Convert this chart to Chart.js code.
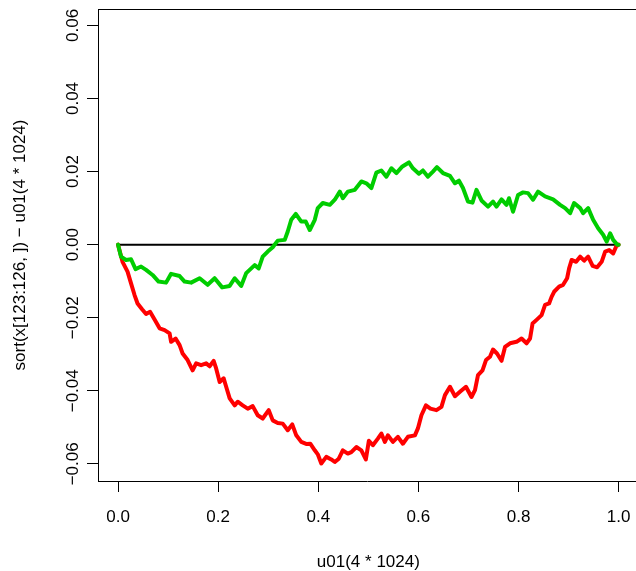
<!DOCTYPE html>
<html lang="en">
<head>
    <meta charset="UTF-8">
    <title>sort(x[123:126, ]) - u01(4 * 1024)</title>
    <script src="https://cdn.jsdelivr.net/npm/chart.js"></script>
    <style>
        html, body { margin: 0; padding: 0; background: #fff; overflow: hidden; }
        #wrap { width: 636px; height: 571px; }
    </style>
</head>
<body>
    <div id="wrap"><canvas id="chart" width="636" height="571"></canvas></div>

    <script>
        // values
        const xTicks = [0, 0.2, 0.4, 0.6, 0.8, 1.0];
        const yTicks = [-0.06, -0.04, -0.02, 0, 0.02, 0.04, 0.06];

        const blackX = [0, 1];
        const blackY = [0, 0];

        const redX = [0, 0.009, 0.019, 0.026, 0.033, 0.039, 0.048, 0.056, 0.064, 0.073,
            0.083, 0.093, 0.103, 0.106, 0.115, 0.123, 0.129, 0.139, 0.149, 0.156,
            0.166, 0.176, 0.183, 0.191, 0.196, 0.203, 0.211, 0.216, 0.223, 0.233,
            0.239, 0.249, 0.259, 0.269, 0.279, 0.289, 0.301, 0.309, 0.319, 0.329,
            0.339, 0.348, 0.356, 0.366, 0.377, 0.384, 0.393, 0.399, 0.406, 0.416,
            0.426, 0.433, 0.441, 0.449, 0.459, 0.466, 0.476, 0.486, 0.495, 0.501,
            0.509, 0.519, 0.526, 0.533, 0.539, 0.549, 0.559, 0.569, 0.579, 0.593,
            0.599, 0.606, 0.615, 0.624, 0.636, 0.646, 0.653, 0.663, 0.673, 0.683,
            0.695, 0.706, 0.713, 0.719, 0.728, 0.735, 0.743, 0.749, 0.757, 0.766,
            0.773, 0.783, 0.796, 0.806, 0.816, 0.823, 0.828, 0.836, 0.846, 0.853,
            0.861, 0.866, 0.871, 0.881, 0.889, 0.897, 0.901, 0.906, 0.915, 0.923,
            0.931, 0.939, 0.948, 0.957, 0.966, 0.973, 0.981, 0.989, 0.995, 1];
        const redY = [0, -0.0047, -0.0074, -0.0106, -0.0138, -0.0161, -0.0177, -0.019, -0.0184, -0.0205,
            -0.0229, -0.0234, -0.0243, -0.0266, -0.0257, -0.0275, -0.0298, -0.0316, -0.0344, -0.0325,
            -0.033, -0.0325, -0.0333, -0.0318, -0.0339, -0.0376, -0.0366, -0.0389, -0.0421, -0.044,
            -0.043, -0.044, -0.0449, -0.0442, -0.0467, -0.0476, -0.0453, -0.0481, -0.0488, -0.049,
            -0.0508, -0.0492, -0.0522, -0.054, -0.0546, -0.0545, -0.0563, -0.0574, -0.0599, -0.0581,
            -0.0588, -0.0595, -0.0586, -0.0563, -0.0572, -0.0568, -0.0554, -0.0563, -0.0588, -0.0537,
            -0.0549, -0.0531, -0.0517, -0.054, -0.0522, -0.054, -0.0526, -0.0545, -0.0526, -0.0522,
            -0.0503, -0.0467, -0.044, -0.0449, -0.0453, -0.0444, -0.0412, -0.0389, -0.0415, -0.0403,
            -0.0389, -0.0417, -0.0398, -0.0357, -0.0344, -0.0316, -0.0307, -0.0287, -0.0298, -0.0318,
            -0.028, -0.027, -0.0266, -0.0257, -0.027, -0.0257, -0.0216, -0.0206, -0.0193, -0.0165,
            -0.0161, -0.0143, -0.0129, -0.0115, -0.011, -0.0092, -0.0065, -0.0042, -0.0047, -0.0033,
            -0.0044, -0.0033, -0.0058, -0.0062, -0.0047, -0.0019, -0.0015, -0.0024, -0.0005, 0];

        const greenX = [0, 0.006, 0.016, 0.026, 0.035, 0.046, 0.056, 0.069, 0.081, 0.096,
            0.106, 0.123, 0.133, 0.146, 0.163, 0.179, 0.193, 0.208, 0.223, 0.233,
            0.246, 0.256, 0.273, 0.281, 0.289, 0.299, 0.309, 0.319, 0.333, 0.339,
            0.346, 0.355, 0.366, 0.375, 0.383, 0.393, 0.399, 0.409, 0.423, 0.433,
            0.443, 0.449, 0.459, 0.473, 0.486, 0.496, 0.506, 0.516, 0.526, 0.536,
            0.546, 0.556, 0.568, 0.581, 0.589, 0.601, 0.609, 0.619, 0.629, 0.637,
            0.649, 0.663, 0.673, 0.681, 0.689, 0.699, 0.708, 0.716, 0.726, 0.739,
            0.749, 0.756, 0.766, 0.776, 0.781, 0.789, 0.799, 0.809, 0.819, 0.829,
            0.839, 0.853, 0.869, 0.883, 0.893, 0.903, 0.911, 0.923, 0.929, 0.939,
            0.949, 0.959, 0.969, 0.976, 0.983, 0.989, 0.997, 1];
        const greenY = [0, -0.0033, -0.0042, -0.004, -0.0067, -0.006, -0.0069, -0.0083, -0.0101, -0.0104,
            -0.008, -0.0086, -0.0101, -0.0104, -0.0092, -0.011, -0.0092, -0.0117, -0.0113, -0.0092,
            -0.0113, -0.0078, -0.0056, -0.0065, -0.0033, -0.0019, -0.0007, 0.0011, 0.0013, 0.0036,
            0.0068, 0.0084, 0.0063, 0.0063, 0.004, 0.0068, 0.01, 0.0114, 0.0109, 0.0123,
            0.0145, 0.0127, 0.0145, 0.015, 0.0173, 0.0168, 0.0155, 0.0197, 0.0203, 0.0186,
            0.0209, 0.0196, 0.0214, 0.0225, 0.0209, 0.0194, 0.0203, 0.0186, 0.02, 0.0212,
            0.0196, 0.0188, 0.0168, 0.0175, 0.0155, 0.0118, 0.0115, 0.015, 0.0121, 0.0104,
            0.0118, 0.0104, 0.0124, 0.0109, 0.0127, 0.009, 0.0136, 0.0143, 0.0141, 0.0123,
            0.0145, 0.0132, 0.0124, 0.0109, 0.01, 0.0086, 0.0114, 0.01, 0.0086, 0.01,
            0.0068, 0.0045, 0.0027, 0.0008, 0.0031, 0.0013, 0, 0];

        const xTitle = 'u01(4 * 1024)';
        const yTitle = 'sort(x[123:126, ]) \u2212 u01(4 * 1024)';

        const FONT = '17px "Liberation Sans", Arial, sans-serif';

        function pts(xs, ys) {
            return xs.map((x, i) => ({ x: x, y: ys[i] }));
        }

        function fmtY(v) {
            const s = Math.abs(v).toFixed(2);
            return v < 0 ? '\u2212' + s : s;
        }

        // R-style box, rotated y labels and axis titles
        const rAxes = {
            id: 'rAxes',
            afterDraw(chart) {
                const ctx = chart.ctx;
                const area = chart.chartArea;
                const xs = chart.scales.x;
                const ys = chart.scales.y;
                ctx.save();
                ctx.strokeStyle = '#000';
                ctx.lineWidth = 1;
                ctx.beginPath();
                ctx.moveTo(area.left, area.top + 0.5);
                ctx.lineTo(area.right, area.top + 0.5);
                ctx.stroke();

                ctx.fillStyle = '#000';
                ctx.font = FONT;
                ctx.textAlign = 'center';
                ctx.textBaseline = 'middle';
                xTicks.forEach(v => {
                    ctx.fillText(v.toFixed(1), xs.getPixelForValue(v), 517);
                });
                ctx.fillText(xTitle, xs.getPixelForValue(0.5), 562);

                yTicks.forEach(v => {
                    ctx.save();
                    ctx.translate(73, ys.getPixelForValue(v));
                    ctx.rotate(-Math.PI / 2);
                    ctx.fillText(fmtY(v), 0, 0);
                    ctx.restore();
                });
                ctx.save();
                ctx.translate(20, (area.top + area.bottom) / 2);
                ctx.rotate(-Math.PI / 2);
                ctx.fillText(yTitle, 0, 0);
                ctx.restore();
                ctx.restore();
            }
        };

        const ctx = document.getElementById('chart').getContext('2d');
        const chart = new Chart(ctx, {
            type: 'line',
            data: {
                datasets: [
                    { data: pts(greenX, greenY), borderColor: '#00CD00', borderWidth: 4 },
                    { data: pts(redX, redY), borderColor: '#FF0000', borderWidth: 4 },
                    { data: pts(blackX, blackY), borderColor: '#000000', borderWidth: 2 }
                ]
            },
            options: {
                responsive: false,
                animation: false,
                events: [],
                layout: { padding: { top: 9, left: 0, right: 0, bottom: 0 } },
                elements: {
                    point: { radius: 0 },
                    line: { tension: 0, borderJoinStyle: 'round', borderCapStyle: 'round', fill: false }
                },
                plugins: {
                    legend: { display: false },
                    tooltip: { enabled: false }
                },
                scales: {
                    x: {
                        type: 'linear',
                        min: -0.04,
                        max: 1.0346,
                        afterBuildTicks: s => { s.ticks = xTicks.map(v => ({ value: v })); },
                        afterFit: s => { s.height = 90; },
                        ticks: { display: false },
                        grid: { drawOnChartArea: false, drawTicks: true, tickLength: 11, color: '#000', lineWidth: 1 },
                        border: { display: true, color: '#000', width: 1 }
                    },
                    y: {
                        type: 'linear',
                        min: -0.0647,
                        max: 0.0645,
                        afterBuildTicks: s => { s.ticks = yTicks.map(v => ({ value: v })); },
                        afterFit: s => { s.width = 98; },
                        ticks: { display: false },
                        grid: { drawOnChartArea: false, drawTicks: true, tickLength: 11, color: '#000', lineWidth: 1 },
                        border: { display: true, color: '#000', width: 1 }
                    }
                }
            },
            plugins: [rAxes]
        });
    </script>
</body>
</html>
